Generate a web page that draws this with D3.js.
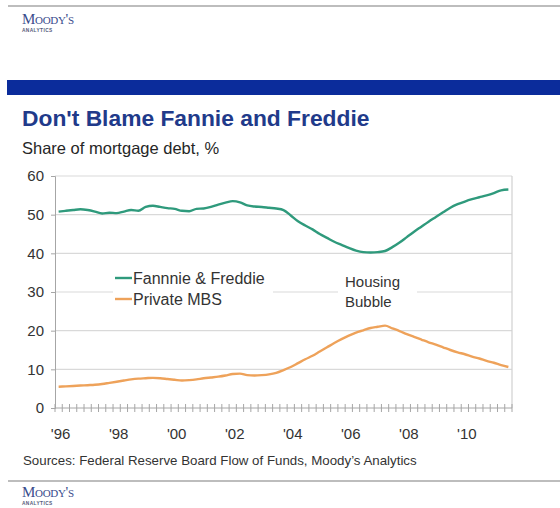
<!DOCTYPE html>
<html>
<head>
<meta charset="utf-8">
<script src="https://cdn.jsdelivr.net/npm/d3@7"></script>
<style>
  body { margin: 0; background: #fff; }
  svg { display: block; font-family: Arial, "Liberation Sans", sans-serif; }
</style>
</head>
<body>
<svg width="560" height="508"></svg>
<script>
// quarterly data, 1996Q1 - 2011Q3
var startYear = 1996;
var tickLabels = ["'96", "'98", "'00", "'02", "'04", "'06", "'08", "'10"];
var yTicks = [0, 10, 20, 30, 40, 50, 60];

var fannieFreddie = [
  50.8, 51.0, 51.2, 51.4, 51.2, 50.8, 50.3, 50.5,
  50.4, 50.8, 51.2, 51.0, 52.0, 52.3, 52.0, 51.7,
  51.5, 51.0, 50.9, 51.5, 51.6, 52.0, 52.6, 53.1,
  53.5, 53.2, 52.4, 52.1, 52.0, 51.8, 51.6, 51.2,
  49.8, 48.3, 47.2, 46.2, 45.0, 44.0, 43.0, 42.2,
  41.4, 40.7, 40.3, 40.2, 40.3, 40.6, 41.6, 42.8,
  44.2, 45.6, 46.9, 48.2, 49.4, 50.6, 51.8, 52.7,
  53.4, 54.0, 54.5, 55.0, 55.6, 56.3, 56.5
];
var privateMBS = [
  5.5, 5.6, 5.7, 5.8, 5.9, 6.0, 6.2, 6.5,
  6.8, 7.1, 7.4, 7.6, 7.7, 7.8, 7.7, 7.5,
  7.3, 7.1, 7.2, 7.4, 7.7, 7.9, 8.1, 8.4,
  8.8, 8.9, 8.5, 8.4, 8.5, 8.7, 9.1, 9.8,
  10.6, 11.6, 12.6, 13.5, 14.6, 15.7, 16.8, 17.8,
  18.7, 19.5, 20.1, 20.7, 21.0, 21.3, 20.6, 19.9,
  19.1, 18.4, 17.7, 17.0, 16.4, 15.7, 15.0, 14.4,
  13.9, 13.3, 12.8, 12.2, 11.7, 11.1, 10.6
];

var series = [
  {name: "Fannnie & Freddie", values: fannieFreddie, color: "#2f9a7c"},
  {name: "Private MBS", values: privateMBS, color: "#eea25a"}
];

var svg = d3.select("svg");
var nQ = fannieFreddie.length;

//okvir stranice
svg.append("line").attr("x1", 8).attr("x2", 560).attr("y1", 6).attr("y2", 6)
  .attr("stroke", "#bdbdbd").attr("stroke-width", 2);
svg.append("line").attr("x1", 8).attr("x2", 560).attr("y1", 481).attr("y2", 481)
  .attr("stroke", "#bdbdbd").attr("stroke-width", 2);
svg.append("rect").attr("x", 7).attr("y", 80).attr("width", 553).attr("height", 15)
  .attr("fill", "#0b2c9b");

function logo(y) {
  svg.append("text").attr("x", 22).attr("y", y)
    .style("font-family", "'Liberation Serif', 'DejaVu Serif', serif")
    .style("font-variant", "small-caps").style("font-size", "15px")
    .style("letter-spacing", "-0.3px")
    .attr("fill", "#3a4c8c").text("Moody's");
  svg.append("text").attr("x", 22).attr("y", y + 8)
    .style("font-size", "4.8px").style("font-weight", "bold")
    .style("letter-spacing", "0.4px")
    .attr("fill", "#555a7a").text("ANALYTICS");
}
logo(24);
logo(497);

svg.append("text").attr("x", 22).attr("y", 126)
  .style("font-size", "22.8px").style("font-weight", "bold")
  .attr("fill", "#213a8a").text("Don't Blame Fannie and Freddie");
svg.append("text").attr("x", 22).attr("y", 154)
  .style("font-size", "16.5px").attr("fill", "#262626")
  .text("Share of mortgage debt, %");
svg.append("text").attr("x", 23).attr("y", 465)
  .style("font-size", "13.3px").attr("fill", "#333")
  .text("Sources: Federal Reserve Board Flow of Funds, Moody\u2019s Analytics");

//skale
var x = d3.scaleLinear().domain([0, nQ]).range([55, 512]);
var y = d3.scaleLinear().domain([0, 60]).range([408, 176]);

var g = svg.append("g");

// gridlines
g.append("g").selectAll("line").data(yTicks.filter(function(d) { return d > 0; }))
  .enter().append("line")
  .attr("x1", x(0)).attr("x2", x(nQ))
  .attr("y1", function(d) { return y(d); }).attr("y2", function(d) { return y(d); })
  .attr("stroke", "#d9d9d9").attr("stroke-width", 1.2);
g.append("line").attr("x1", x(nQ)).attr("x2", x(nQ)).attr("y1", y(60)).attr("y2", y(0))
  .attr("stroke", "#d0d0d0").attr("stroke-width", 1.2);

// y axis
var yAxis = d3.axisLeft(y).tickValues(yTicks).tickSize(4).tickPadding(7);
var ya = g.append("g").attr("transform", "translate(" + x(0) + ",0)").call(yAxis);
ya.select(".domain").attr("stroke", "#a6a6a6");
ya.selectAll(".tick line").attr("stroke", "#a6a6a6");
ya.selectAll("text").style("font-size", "15px").attr("fill", "#333")
  .style("font-family", "Arial, 'Liberation Sans', sans-serif");

// x axis - cross ticks izmedju kvartala
var xa = g.append("g");
xa.append("line").attr("x1", x(0)).attr("x2", x(nQ)).attr("y1", y(0)).attr("y2", y(0))
  .attr("stroke", "#a6a6a6");
xa.selectAll("line.tk").data(d3.range(nQ + 1)).enter().append("line")
  .attr("class", "tk")
  .attr("x1", function(d) { return x(d); }).attr("x2", function(d) { return x(d); })
  .attr("y1", y(0) - 4).attr("y2", y(0) + 4)
  .attr("stroke", "#a6a6a6");
xa.selectAll("text").data(tickLabels).enter().append("text")
  .attr("x", function(d, i) { return x(i * 8 + 0.5) + 2; })
  .attr("y", 439)
  .attr("text-anchor", "middle")
  .style("font-size", "15px").attr("fill", "#333")
  .text(function(d) { return d; });

// white boxes behind legend and annotation
g.append("rect").attr("x", 113).attr("y", 264).attr("width", 160).attr("height", 46).attr("fill", "#fff");
g.append("rect").attr("x", 338).attr("y", 270).attr("width", 79).attr("height", 40).attr("fill", "#fff");

// lines
var line = d3.line()
  .x(function(d, i) { return x(i + 0.5); })
  .y(function(d) { return y(d); })
  .curve(d3.curveMonotoneX);

g.selectAll("path.series").data(series).enter().append("path")
  .attr("class", "series")
  .attr("d", function(d) { return line(d.values); })
  .attr("fill", "none")
  .attr("stroke", function(d) { return d.color; })
  .attr("stroke-width", 2.4)
  .attr("stroke-linejoin", "round");

// legend
var leg = g.selectAll("g.leg").data(series).enter().append("g")
  .attr("class", "leg")
  .attr("transform", function(d, i) { return "translate(115," + (278 + i * 21) + ")"; });
leg.append("line").attr("x1", 0).attr("x2", 17).attr("y1", 0).attr("y2", 0)
  .attr("stroke", function(d) { return d.color; }).attr("stroke-width", 2.4);
leg.append("text").attr("x", 18).attr("y", 5.5)
  .style("font-size", "16px").attr("fill", "#333")
  .text(function(d) { return d.name; });

// annotation
g.append("text").attr("x", 345).attr("y", 287)
  .style("font-size", "15px").attr("fill", "#333").text("Housing");
g.append("text").attr("x", 345).attr("y", 307)
  .style("font-size", "15px").attr("fill", "#333").text("Bubble");
</script>
</body>
</html>
